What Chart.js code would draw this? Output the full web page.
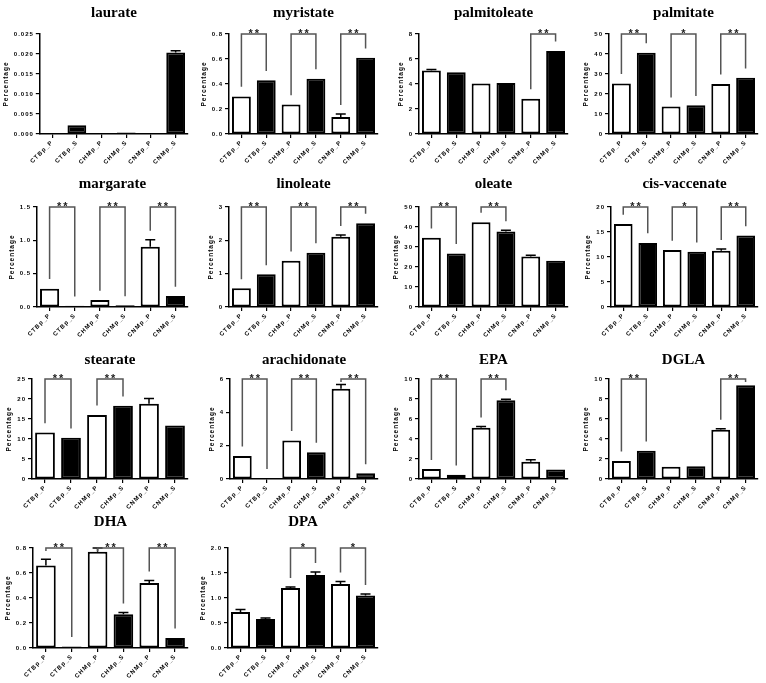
<!DOCTYPE html>
<html>
<head>
<meta charset="utf-8">
<script src="https://cdn.jsdelivr.net/npm/chart.js@4.4.1/dist/chart.umd.min.js"></script>
<style>
html, body { margin: 0; padding: 0; background: #fff; }
#wrap { position: relative; width: 766px; height: 683px; overflow: hidden; }
#wrap canvas { position: absolute; }
.ttl { position: absolute; font: bold 15px "Liberation Serif", "Times New Roman", serif; line-height: 20px; text-align: center; color: #000; white-space: nowrap; }
</style>
</head>
<body>
<div id="wrap"></div>
<script>
// groups on the x axis
const groups = ['CTBp_P', 'CTBp_S', 'CHMp_P', 'CHMp_S', 'CNMp_P', 'CNMp_S'];

// mean percentage + SEM, significance pairs [a, b, label]
const laurate = [0, 0.0022, 0, 0.0004, 0, 0.0204];
const laurateErr = [0, 0.0001, 0, 0.0001, 0, 0.0004];
const laurateSig = [];

const myristate = [0.30, 0.43, 0.237, 0.442, 0.137, 0.61];
const myristateErr = [0.006, 0.003, 0.002, 0.004, 0.023, 0.003];
const myristateSig = [[0, 1, '**'], [2, 3, '**'], [4, 5, '**']];

const palmitoleate = [5.08, 4.95, 4.04, 4.08, 2.82, 6.65];
const palmitoleateErr = [0.08, 0.05, 0.04, 0.03, 0.05, 0.03];
const palmitoleateSig = [[4, 5, '**']];

const palmitate = [25.3, 40.6, 13.7, 14.4, 25.0, 28.1];
const palmitateErr = [0.2, 0.3, 0.1, 0.1, 0.2, 0.2];
const palmitateSig = [[0, 1, '**'], [2, 3, '*'], [4, 5, '**']];

const margarate = [0.275, 0.02, 0.105, 0.025, 0.905, 0.165];
const margarateErr = [0.01, 0.003, 0.003, 0.003, 0.105, 0.004];
const margarateSig = [[0, 1, '**'], [2, 3, '**'], [4, 5, '**']];

const linoleate = [0.56, 0.98, 1.39, 1.63, 2.11, 2.51];
const linoleateErr = [0.005, 0.005, 0.005, 0.01, 0.05, 0.02];
const linoleateSig = [[0, 1, '**'], [2, 3, '**'], [4, 5, '**']];

const oleate = [34.6, 26.8, 42.4, 37.8, 25.2, 23.1];
const oleateErr = [0.2, 0.2, 0.2, 0.6, 0.7, 0.1];
const oleateSig = [[0, 1, '**'], [2, 3, '**']];

const cisVaccenate = [16.6, 12.8, 11.4, 11.05, 11.25, 14.3];
const cisVaccenateErr = [0.05, 0.15, 0.05, 0.05, 0.35, 0.05];
const cisVaccenateSig = [[0, 1, '**'], [2, 3, '*'], [4, 5, '**']];

const stearate = [11.6, 10.3, 16.0, 18.3, 18.8, 13.4];
const stearateErr = [0.1, 0.1, 0.1, 0.1, 1.3, 0.05];
const stearateSig = [[0, 1, '**'], [2, 3, '**']];

const arachidonate = [1.38, 0.05, 2.31, 1.6, 5.42, 0.34];
const arachidonateErr = [0.03, 0.005, 0.03, 0.03, 0.25, 0.01];
const arachidonateSig = [[0, 1, '**'], [2, 3, '**'], [4, 5, '**']];

const epa = [0.99, 0.43, 5.13, 7.88, 1.72, 0.96];
const epaErr = [0.02, 0.01, 0.13, 0.1, 0.2, 0.02];
const epaSig = [[0, 1, '**'], [2, 3, '**']];

const dgla = [1.81, 2.83, 1.22, 1.28, 4.93, 9.38];
const dglaErr = [0.03, 0.02, 0.02, 0.02, 0.1, 0.05];
const dglaSig = [[0, 1, '**'], [4, 5, '**']];

const dha = [0.66, 0.012, 0.77, 0.27, 0.52, 0.08];
const dhaErr = [0.05, 0.004, 0.03, 0.015, 0.02, 0.004];
const dhaSig = [[0, 1, '**'], [2, 3, '**'], [4, 5, '**']];

const dpa = [0.72, 0.58, 1.2, 1.46, 1.28, 1.05];
const dpaErr = [0.05, 0.02, 0.02, 0.06, 0.05, 0.03];
const dpaSig = [[2, 3, '*'], [4, 5, '*']];

// panel titles and y axis ticks
const titles = ['laurate', 'myristate', 'palmitoleate', 'palmitate',
  'margarate', 'linoleate', 'oleate', 'cis-vaccenate',
  'stearate', 'arachidonate', 'EPA', 'DGLA', 'DHA', 'DPA'];
const yMax = [0.025, 0.8, 8, 50, 1.5, 3, 50, 20, 25, 6, 10, 10, 0.8, 2.0];
const yStep = [0.005, 0.2, 2, 10, 0.5, 1, 10, 5, 5, 2, 2, 2, 0.2, 0.5];
const yDecimals = [3, 1, 0, 0, 1, 0, 0, 0, 0, 0, 0, 0, 1, 1];

const means = [laurate, myristate, palmitoleate, palmitate, margarate, linoleate, oleate,
  cisVaccenate, stearate, arachidonate, epa, dgla, dha, dpa];
const errs = [laurateErr, myristateErr, palmitoleateErr, palmitateErr, margarateErr, linoleateErr,
  oleateErr, cisVaccenateErr, stearateErr, arachidonateErr, epaErr, dglaErr, dhaErr, dpaErr];
const sigs = [laurateSig, myristateSig, palmitoleateSig, palmitateSig, margarateSig, linoleateSig,
  oleateSig, cisVaccenateSig, stearateSig, arachidonateSig, epaSig, dglaSig, dhaSig, dpaSig];

// layout of the grid
const colX = [0, 190, 380, 570];
const colW = [190, 190, 190, 196];
const rowY = [0, 173, 345, 514];
const titleBase = [16.5, 14.7, 18.5, 12];
const axisX = [33, 39, 39, 39, 37, 39, 39, 41, 32, 40, 39, 39, 33, 38];
const panelH = 169;
const SPACING = '1px';
const tickFont = { family: '"Liberation Sans", Arial, sans-serif', size: 6, weight: 'bold' };

// error bars (mean + SEM) and significance brackets
const marks = {
  id: 'marks',
  beforeUpdate(c) { c.ctx.letterSpacing = SPACING; },
  beforeDraw(c) { c.ctx.letterSpacing = SPACING; },
  afterDatasetsDraw(c) {
    const o = c.options.plugins.marks;
    const err = o.err, sig = o.sig;
    const vals = c.data.datasets[0].data;
    const meta = c.getDatasetMeta(0);
    const ys = c.scales.y;
    const ctx = c.ctx;
    ctx.save();
    ctx.strokeStyle = '#000';
    ctx.lineWidth = 1.5;
    meta.data.forEach((bar, i) => {
      if (!err[i]) return;
      const y0 = ys.getPixelForValue(vals[i]);
      const y1 = ys.getPixelForValue(vals[i] + err[i]);
      if (y0 - y1 < 0.8) return;
      ctx.beginPath();
      ctx.moveTo(bar.x, y0);
      ctx.lineTo(bar.x, y1);
      ctx.moveTo(bar.x - 5, y1);
      ctx.lineTo(bar.x + 5, y1);
      ctx.stroke();
    });
    const top = ys.getPixelForValue(ys.max);
    ctx.strokeStyle = '#555';
    ctx.fillStyle = '#222';
    ctx.font = 'bold 11px "Liberation Sans", Arial, sans-serif';
    ctx.letterSpacing = '2px';
    ctx.textAlign = 'center';
    ctx.textBaseline = 'alphabetic';
    sig.forEach(([a, b, lab]) => {
      const xa = meta.data[a].x, xb = meta.data[b].x;
      const ya = Math.max(top + 3, ys.getPixelForValue(vals[a] + (err[a] || 0)) - 9);
      const yb = Math.max(top + 3, ys.getPixelForValue(vals[b] + (err[b] || 0)) - 9);
      ctx.beginPath();
      ctx.moveTo(xa, ya);
      ctx.lineTo(xa, top);
      ctx.lineTo(xb, top);
      ctx.lineTo(xb, yb);
      ctx.stroke();
      ctx.fillText(lab, (xa + xb) / 2 + 1, top + 3);
    });
    ctx.restore();
  }
};

const wrap = document.getElementById('wrap');

titles.forEach((title, k) => {
  const col = k % 4, row = Math.floor(k / 4);
  const canvas = document.createElement('canvas');
  canvas.style.left = colX[col] + 'px';
  canvas.style.top = rowY[row] + 'px';
  canvas.style.width = colW[col] + 'px';
  canvas.style.height = panelH + 'px';
  canvas.width = colW[col];
  canvas.height = panelH;
  wrap.appendChild(canvas);

  const ttl = document.createElement('div');
  ttl.className = 'ttl';
  ttl.textContent = title;
  wrap.appendChild(ttl);

  const chart = new Chart(canvas.getContext('2d'), {
    type: 'bar',
    data: {
      labels: groups,
      datasets: [{
        data: means[k],
        backgroundColor: groups.map((g, i) => i % 2 ? '#000' : '#fff'),
        borderColor: '#000',
        borderWidth: 2,
        borderSkipped: false,
        barPercentage: 0.76,
        categoryPercentage: 1
      }]
    },
    options: {
      responsive: false,
      animation: false,
      devicePixelRatio: 1,
      layout: { padding: { left: 0, right: colW[col] - 188, top: 34, bottom: 0 } },
      plugins: {
        legend: { display: false },
        tooltip: { enabled: false },
        marks: { err: errs[k], sig: sigs[k] }
      },
      scales: {
        x: {
          offset: true,
          grid: { display: true, offset: false, drawOnChartArea: false, drawTicks: true, tickLength: 4, color: '#000', lineWidth: 1.2 },
          border: { display: true, color: '#000', width: 1.5 },
          ticks: { color: '#000', padding: 1, minRotation: 45, maxRotation: 45, font: tickFont },
          afterFit: (s) => { s.height = panelH - 134; }
        },
        y: {
          min: 0,
          max: yMax[k],
          grid: { display: true, drawOnChartArea: false, drawTicks: true, tickLength: 4, color: '#000', lineWidth: 1.2 },
          border: { display: true, color: '#000', width: 1.5 },
          ticks: {
            stepSize: yStep[k], color: '#000', padding: 2, font: tickFont,
            callback: (v) => Number(v).toFixed(yDecimals[k])
          },
          title: {
            display: true, text: 'Percentage', color: '#000', padding: { top: 2, bottom: 2 },
            font: { family: '"Liberation Sans", Arial, sans-serif', size: 6.5, weight: 'bold' }
          }
        }
      }
    },
    plugins: [marks]
  });

  // put the y axis where the reference has it
  const shift = Math.max(0, axisX[k] - chart.chartArea.left);
  chart.options.layout.padding.left = shift;
  chart.update('none');

  const area = chart.chartArea;
  ttl.style.left = (colX[col] + area.left) + 'px';
  ttl.style.width = (area.right - area.left) + 'px';
  ttl.style.top = (rowY[row] + titleBase[row] - 15) + 'px';
});
</script>
</body>
</html>
